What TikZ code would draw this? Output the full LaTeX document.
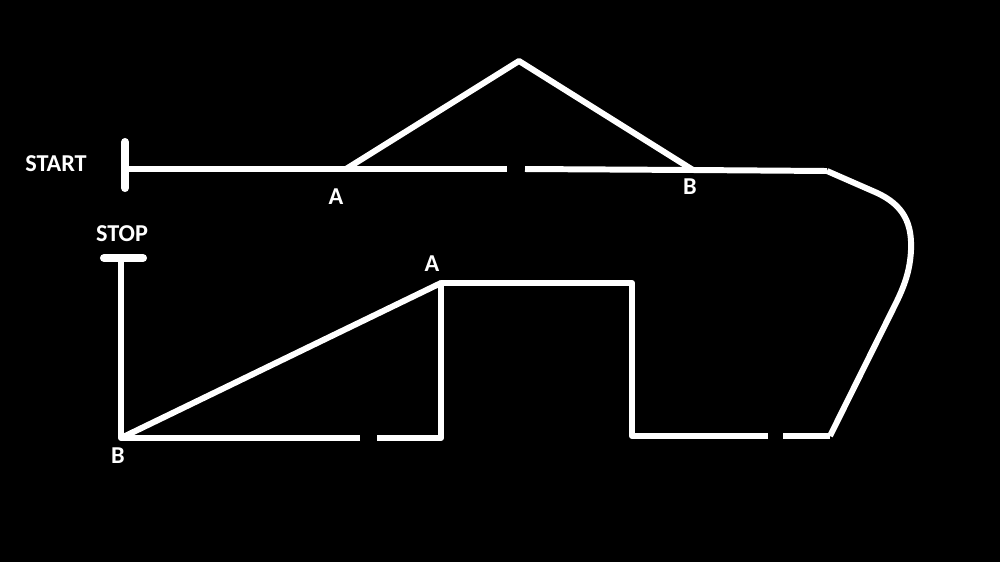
\documentclass[tikz,border=0pt]{standalone}
\usepackage{fontspec}
\setmainfont{Carlito}
\begin{document}
\begin{tikzpicture}[x=0.02cm,y=-0.02cm,
  wire/.style={draw=white,line width=3.4pt,line join=round},
  bar/.style={draw=white,line width=4.6pt,line cap=round},
  lbl/.style={text=white,font=\bfseries\fontsize{13.8}{16}\selectfont,inner sep=0pt}]
\fill[black] (0,0) rectangle (1000,562);
\useasboundingbox (0,0) rectangle (1000,562);
% labels
\node[lbl] (start) at (56,164) {START};
\node[lbl] (stop) at (122,234) {STOP};
\node[lbl] (la1) at (336,197) {A};
\node[lbl] (lb1) at (690,187) {B};
\node[lbl] (la2) at (432,264) {A};
\node[lbl] (lb2) at (118,456) {B};
% points
\coordinate (s1) at (125,142);
\coordinate (s2) at (125,188);
\coordinate (s) at (125,169);
\coordinate (g1) at (507,169);
\coordinate (g2) at (525,169);
\coordinate (ta) at (346,169);
\coordinate (apex) at (519,61);
\coordinate (tb) at (693,170);
\coordinate (r1) at (827,171);
\coordinate (r2) at (875,192);
\coordinate (rm) at (911,250);
\coordinate (r3) at (895,305);
\coordinate (br) at (830,436);
\coordinate (g3) at (783,436);
\coordinate (g4) at (768,436);
\coordinate (c1) at (632,436);
\coordinate (c2) at (632,283);
\coordinate (c3) at (441,283);
\coordinate (c4) at (441,438);
\coordinate (g5) at (377,438);
\coordinate (g6) at (360,438);
\coordinate (bb) at (121,438);
\coordinate (st) at (121,258);
\coordinate (st1) at (104,258);
\coordinate (st2) at (143,258);
% start bar and top line
\draw[bar] (s1) -- (s2);
\draw[wire] (s) -- (g1);
\draw[wire] (g2) -- (tb) -- (r1);
\draw[wire] (ta) -- (apex) -- (tb);
% right curve
\draw[wire] (r1) -- (r2) .. controls (905,205) and (912,225) .. (rm) .. controls (910,270) and (905,285) .. (r3) -- (br);
% bottom line
\draw[wire] (br) -- (g3);
\draw[wire] (g4) -- (c1) -- (c2) -- (c3) -- (c4) -- (g5);
\draw[wire] (g6) -- (bb) -- (st);
\draw[wire] (bb) -- (c3);
\draw[bar] (st1) -- (st2);
\end{tikzpicture}
\end{document}
